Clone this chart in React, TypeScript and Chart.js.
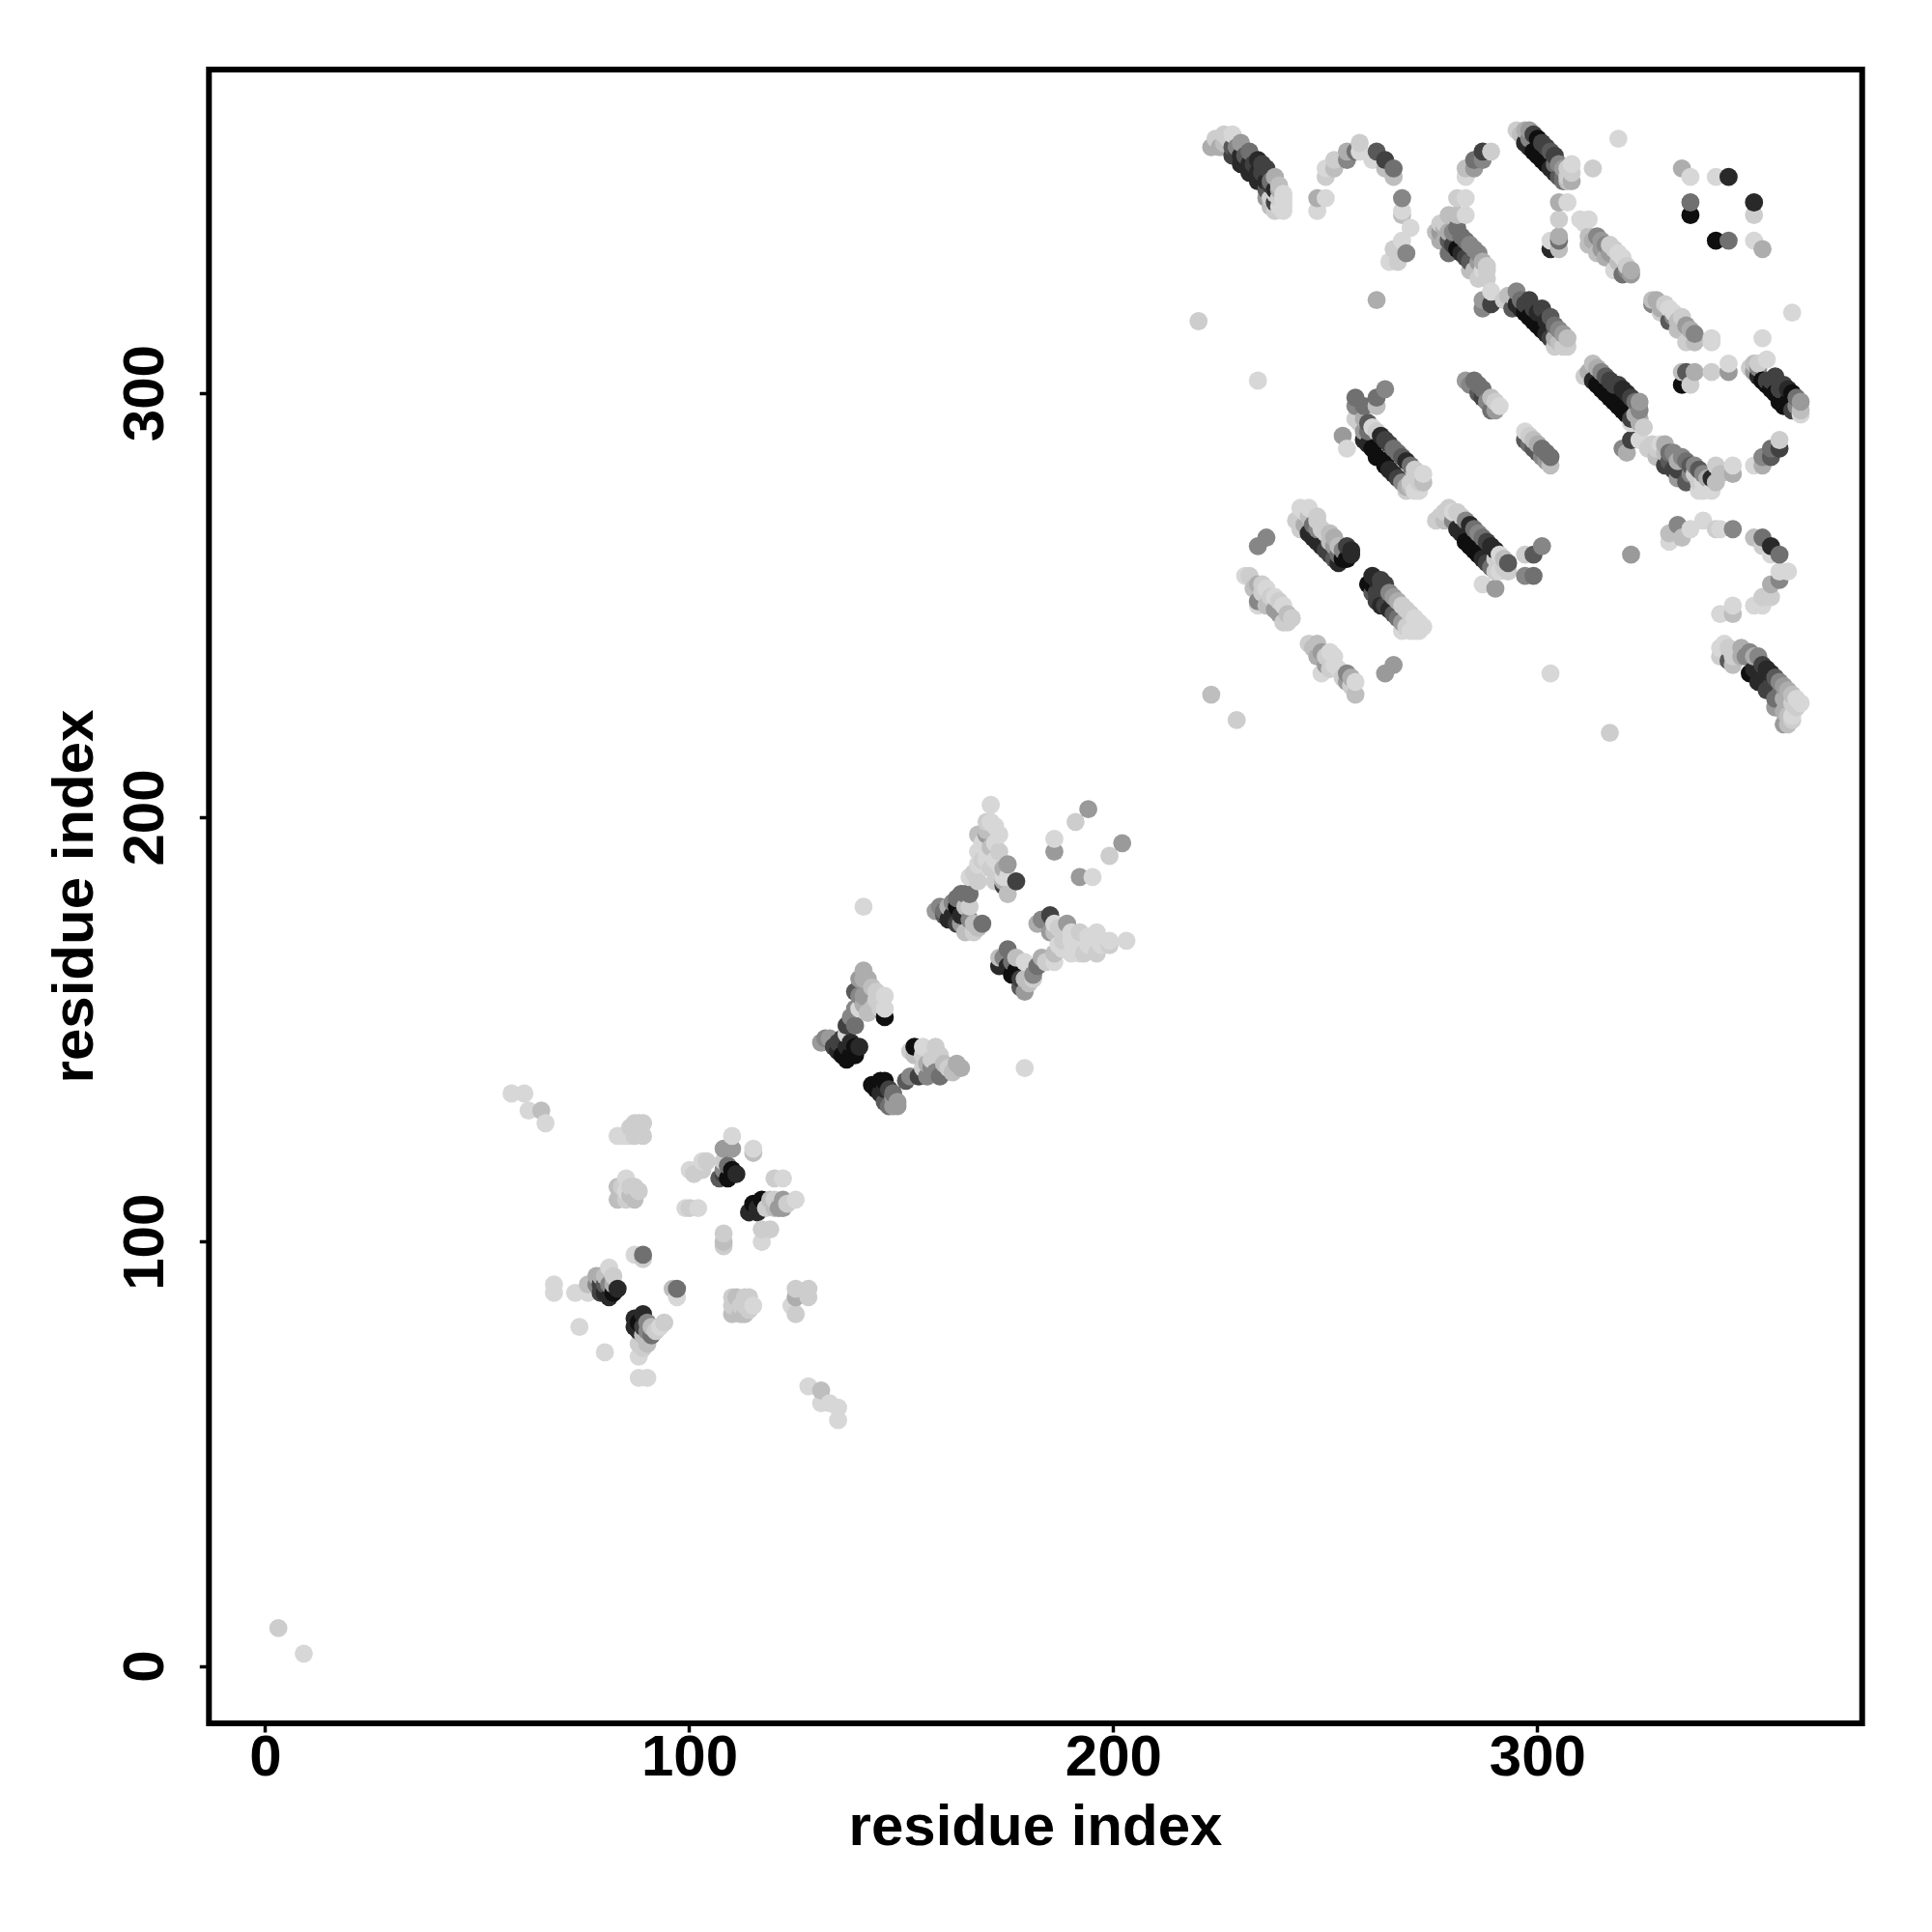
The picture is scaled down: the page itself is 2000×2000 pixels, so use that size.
import React, { useEffect, useRef } from "react";
import { Chart, registerables } from "chart.js";
Chart.register(...registerables);

// Each contact: [residue i, residue j, strength 0..10]
const tickStep = 100;
const axisTitle = "residue index";
const terminal = [[3,9,1],[9,3,0]];
const loopA = [[58,135,0],[61,135,0],[62,131,0],[65,131,2],[66,128,0],[128,66,0],[131,65,2],[131,62,0],[133,62,0],[135,61,0],[135,58,0],[74,80,0],[80,74,0],[88,68,0],[90,68,0]];
const groupA = [[83,125,0],[85,125,0],[87,128,1],[89,128,1],[87,125,1],[89,125,1],[83,113,2],[83,110,2],[85,115,0],[85,110,1],[87,113,1],[87,110,2],[85,112,0],[84,113,1],[84,111,2],[86,113,1],[86,111,2],[88,112,1],[84,125,0],[86,127,1],[88,126,1],[88,128,1],[86,125,0]];
const groupC = [[100,117,0],[103,119,0],[103,117,1],[108,117,5],[110,125,0],[108,122,4],[110,122,4],[115,122,0],[115,121,2],[108,116,8],[109,115,10],[110,117,10],[120,115,1],[122,115,0],[115,109,10],[117,110,10],[116,107,9],[118,108,1],[122,110,4],[122,108,4],[125,110,0],[120,110,1],[99,108,0],[100,108,1],[102,108,0],[108,102,1],[108,100,2],[108,99,1],[117,103,1],[119,103,1],[117,100,0],[109,118,6],[108,119,1],[111,116,9],[107,115,7],[101,116,1],[104,119,1],[114,107,9],[119,109,1],[120,108,2],[116,108,9],[119,110,2],[121,108,4],[123,109,1]];
const groupE = [[87,97,0],[89,97,6],[89,96,1],[81,94,0],[79,92,3],[76,90,2],[76,88,0],[73,88,0],[68,90,0],[68,88,0],[79,90,8],[80,88,9],[82,88,10],[83,89,9],[81,90,5],[96,89,2],[97,89,6],[97,87,0],[80,92,2],[80,90,7],[78,90,5],[82,90,3],[82,92,1],[79,88,8],[81,87,9],[78,92,3]];
const groupF = [[89,83,9],[88,81,10],[88,79,9],[90,81,5],[91,78,6],[92,79,1],[94,81,1],[88,76,1],[90,76,2],[88,73,0],[110,87,1],[110,83,2],[113,87,1],[113,83,2],[112,85,1],[115,85,0],[110,85,1],[112,83,2],[125,89,1],[128,89,1],[128,87,1],[125,87,3],[124,85,0],[125,83,1],[87,82,9],[89,80,8],[87,80,9],[90,79,5],[91,80,2],[93,80,0],[89,78,2],[89,75,1],[111,85,1],[114,87,1],[111,87,2],[114,84,1],[113,85,1]];
const betaLeft = [[141,164,3],[141,162,3],[139,159,7],[144,159,1],[146,158,0],[141,158,4],[139,155,5],[142,154,2],[140,155,0],[146,153,10],[146,155,0],[137,151,8],[139,151,6],[137,149,0],[132,148,5],[133,148,4],[135,147,8],[136,144,10],[139,146,10],[138,144,10],[140,162,4],[142,162,3],[143,160,2],[140,158,5],[144,157,1],[141,156,3],[143,155,2],[145,155,1],[138,153,5],[134,146,8],[135,145,9],[137,146,9],[136,148,8],[138,147,9],[139,144,10],[137,143,10],[140,146,9],[131,147,4]];
const betaRight = [[153,146,10],[155,146,0],[158,146,1],[155,141,1],[159,144,1],[164,141,3],[161,141,1],[159,139,6],[157,141,5],[151,138,7],[154,139,8],[145,138,10],[146,138,10],[144,136,10],[147,136,8],[149,133,4],[147,132,6],[148,132,4],[152,145,1],[153,144,2],[155,144,1],[156,142,3],[157,143,1],[158,140,5],[160,142,2],[162,140,2],[163,142,3],[156,139,5],[152,139,5],[143,137,10],[146,136,9],[145,135,9],[148,135,6],[148,134,4],[146,133,7],[149,132,4]];
const fanTop = [[171,203,0],[171,199,0],[170,199,1],[168,196,2],[173,196,0],[170,196,4],[168,192,0],[168,189,0],[170,192,0],[173,192,1],[173,189,0],[175,189,4],[172,185,1],[174,186,0],[177,185,8],[175,182,2],[174,184,8],[166,186,0],[168,185,1],[170,197,2],[172,198,0],[172,194,0],[169,194,0],[171,193,2],[170,190,0],[172,190,0],[171,188,1],[169,190,1],[174,188,3],[173,187,1],[175,186,0],[167,187,1],[174,185,3]];
const fanLeft = [[164,182,6],[166,182,6],[159,179,5],[161,179,3],[163,179,10],[166,179,1],[161,176,9],[163,175,8],[165,173,2],[167,173,1],[169,175,6],[167,175,2],[160,178,6],[162,177,9],[164,177,9],[162,180,5],[164,175,4],[166,176,5],[168,174,2],[165,179,2],[158,178,4],[160,177,7],[163,181,6],[165,182,6]];
const fanRight = [[175,169,6],[173,167,2],[173,165,9],[176,166,6],[176,163,10],[179,166,0],[178,160,7],[180,161,2],[179,159,4],[182,165,6],[186,168,2],[186,166,0],[182,175,3],[185,177,8],[186,175,0],[189,175,4],[185,173,4],[190,173,0],[192,173,1],[190,168,0],[192,168,0],[196,173,0],[196,168,1],[199,171,0],[203,171,0],[194,172,0],[199,170,1],[174,167,5],[175,165,9],[177,164,10],[177,167,2],[178,162,8],[181,162,1],[179,162,2],[181,163,5],[183,167,3],[184,166,1],[188,171,1],[188,169,0],[190,171,0],[187,170,0],[192,170,0],[194,170,0],[197,170,0],[193,168,1],[186,173,2],[188,173,1],[183,176,5],[187,174,1]];
const fanSingles = [[194,202,4],[191,199,1],[186,195,0],[186,192,4],[199,191,1],[202,194,4],[192,186,4],[195,186,0],[141,179,0],[179,141,0]];
const stripeA = [[223,358,3],[224,360,1],[225,358,3],[226,361,1],[227,360,1],[228,361,0],[226,359,2],[228,358,7],[229,357,8],[230,356,9],[231,355,9],[232,354,9],[233,353,9],[234,352,9],[235,351,9],[236,350,9],[237,349,8],[238,348,9],[236,346,4],[238,345,8],[230,359,4],[232,357,6],[234,355,9],[235,354,8],[236,353,8],[238,351,3],[237,346,1],[238,343,1],[240,343,0],[240,346,0],[240,345,0]];
const stripeAFill = [[229,358,5],[231,356,7],[233,354,8],[235,352,8],[237,350,6],[239,348,3],[239,346,1],[239,344,0],[237,344,2],[238,347,1],[236,348,7],[234,350,9],[232,352,9],[230,354,9],[228,356,8],[240,344,0],[240,347,0],[239,349,2]];
const archB = [[248,343,0],[248,346,3],[250,346,0],[250,351,1],[250,353,0],[252,353,2],[252,355,1],[255,355,5],[255,357,3],[257,357,6],[258,357,0],[258,359,1],[262,357,7],[261,355,0],[264,355,8],[264,353,2],[266,351,2],[266,353,6],[268,346,5],[268,343,0],[268,342,2],[270,339,0],[268,336,0],[266,334,1],[265,331,0],[267,331,1],[269,333,5]];
const singlesTop = [[262,322,3],[220,317,1],[234,303,0],[313,353,1],[319,360,0],[223,229,2],[229,223,1],[303,234,0],[317,220,1],[322,262,4]];
const branchC = [[289,357,1],[287,357,8],[285,355,6],[287,355,5],[283,353,2],[285,353,4],[283,351,0],[281,346,1],[283,346,0],[279,342,2],[281,342,2],[283,342,0]];
const stripeC = [[277,340,1],[281,339,6],[283,336,6],[285,334,5],[286,331,4],[288,329,1],[289,324,0],[287,320,5],[289,321,8],[287,322,4],[277,338,4],[279,336,7],[281,334,10],[283,332,8],[284,329,2],[286,327,1],[279,333,6],[278,336,3]];
const stripeCFill = [[278,339,3],[280,338,5],[282,337,6],[284,335,5],[286,333,5],[287,331,3],[288,330,1],[280,335,8],[282,333,9],[284,331,7],[285,329,2],[287,328,1],[287,329,0],[279,338,3],[278,340,1],[276,338,2],[277,336,3],[288,327,1]];
const stripeD = [[295,362,1],[297,362,3],[298,362,4],[300,360,10],[302,358,8],[304,356,8],[305,354,5],[308,354,0],[308,352,1],[306,351,6],[297,359,9],[299,357,10],[301,355,10],[303,353,9],[305,351,7]];
const stripeDFill = [[296,361,2],[298,360,5],[299,361,8],[301,359,8],[303,357,7],[304,354,6],[306,353,4],[307,353,1],[307,351,1],[298,358,9],[300,356,10],[302,354,10],[304,352,9],[306,350,6],[307,350,2],[308,350,3]];
const shortD = [[305,345,3],[307,345,0],[305,341,1],[305,337,3],[305,336,6],[305,334,2],[303,336,0],[303,334,9]];
const stripeE = [[312,341,0],[310,341,0],[312,337,2],[314,337,5],[312,335,2],[316,335,5],[314,333,2],[318,334,1],[316,332,3],[320,332,0],[318,329,0],[322,329,3],[320,328,6],[322,328,4],[311,340,0],[313,336,3],[315,336,4],[315,334,4],[317,333,4],[317,335,1],[319,331,2],[319,333,0],[321,330,1],[321,329,5]];
const ringGroup = [[334,353,3],[336,351,0],[342,351,0],[345,351,9],[336,345,6],[336,342,10],[351,345,9],[351,342,1],[342,336,10],[345,336,6],[351,336,0],[353,334,3]];
const stripeF = [[293,323,2],[294,323,2],[295,324,5],[298,322,8],[301,320,8],[303,318,7],[305,315,5],[307,313,2],[295,321,9],[297,319,10],[299,317,10],[301,315,10],[303,313,8],[304,311,1],[306,311,1]];
const stripeFFill = [[292,322,1],[294,320,7],[296,322,6],[297,321,8],[299,320,8],[300,319,9],[302,317,9],[304,316,6],[306,314,4],[296,320,9],[298,318,10],[300,316,10],[302,314,9],[304,313,3],[305,312,2],[307,311,1]];
const singlesRight = [[360,319,0],[353,313,0]];
const stripeG = [[328,322,3],[329,319,1],[331,320,0],[334,318,1],[331,317,7],[335,316,4],[333,315,2],[337,314,5],[335,312,1],[337,312,2],[341,312,0],[341,313,0],[330,321,1],[332,319,0],[332,318,5],[333,317,2],[336,315,3],[336,313,1],[334,316,2],[327,322,2],[327,321,5],[329,320,3]];
const rowG = [[334,305,2],[334,302,10],[336,302,1],[335,305,7],[337,305,3],[341,305,1],[345,305,4],[345,307,0]];
const stripeH = [[311,304,1],[313,307,2],[315,305,5],[317,303,8],[320,301,9],[322,299,8],[324,296,5],[324,293,3],[322,293,0],[313,303,9],[315,301,10],[317,299,10],[319,297,10],[321,295,10]];
const stripeHFill = [[312,305,3],[314,306,3],[316,304,7],[318,302,8],[319,302,8],[321,300,9],[323,298,6],[324,298,4],[324,294,3],[314,302,10],[316,300,10],[318,298,10],[320,296,10],[322,294,8],[323,295,3],[325,292,1]];
const stripeJ = [[351,307,2],[354,308,0],[351,305,4],[353,303,10],[356,304,8],[358,302,8],[360,300,10],[362,298,4],[362,296,2],[362,295,0],[355,301,10],[357,299,10],[358,297,10]];
const stripeJFill = [[350,306,1],[352,307,1],[352,304,9],[354,303,8],[355,303,8],[357,301,8],[359,301,9],[361,299,6],[352,306,5],[354,302,10],[356,300,10],[357,298,10],[359,298,10],[361,297,5],[360,296,8]];
const clusterK = [[257,299,6],[257,297,5],[259,297,6],[262,297,2],[262,299,6],[264,301,5],[254,290,4],[255,287,0]];
const stripeK = [[258,293,1],[260,293,7],[261,292,0],[263,290,9],[265,288,8],[267,286,6],[269,284,9],[271,282,1],[273,279,2],[271,277,0],[269,277,1],[259,289,9],[261,287,10],[264,284,10],[265,282,9],[267,280,8],[259,291,4],[269,278,3]];
const stripeKFill = [[257,294,1],[259,294,3],[260,291,6],[262,291,1],[264,289,8],[266,287,6],[268,285,7],[270,283,6],[272,281,1],[273,281,0],[272,279,1],[270,279,1],[260,288,9],[262,285,10],[264,283,10],[266,281,9],[268,279,5],[270,278,2],[272,277,0]];
const stripeL = [[283,303,4],[285,303,6],[287,301,6],[287,299,8],[289,299,2],[289,296,6],[291,297,0],[284,302,5],[286,300,7],[288,298,5],[290,298,1],[286,302,6],[290,296,4]];
const stripeM = [[297,291,0],[297,289,7],[299,289,2],[299,287,7],[301,287,6],[303,285,6],[301,285,5],[303,283,2],[298,290,1],[298,288,6],[300,288,3],[300,286,7],[302,286,6],[302,284,4]];
const stripeN = [[244,268,1],[244,273,0],[246,273,0],[244,271,1],[248,271,1],[249,268,1],[252,266,3],[253,264,2],[255,264,8],[256,262,9],[254,261,10],[246,267,9],[248,265,9],[250,263,8],[252,261,7],[248,268,5]];
const stripeNFill = [[243,270,1],[245,272,0],[245,269,3],[246,271,2],[247,269,6],[248,270,1],[250,267,1],[251,267,2],[251,265,2],[253,262,6],[247,266,9],[249,264,9],[251,262,8],[253,260,9],[255,261,10],[256,263,9],[254,263,5],[252,264,4]];
const stripeO = [[261,255,10],[262,256,9],[264,255,8],[266,252,4],[268,250,1],[270,248,1],[273,245,0],[271,244,0],[268,244,0],[262,251,8],[265,249,9],[267,247,6],[261,253,7]];
const stripeOFill = [[260,255,10],[261,257,9],[263,254,8],[263,256,8],[265,253,5],[267,251,3],[269,249,1],[271,247,0],[272,246,0],[272,244,0],[270,244,0],[263,250,9],[264,250,8],[266,248,7],[268,246,4],[269,245,1],[262,253,8]];
const stripeP = [[277,271,1],[279,273,1],[281,272,1],[284,269,9],[286,267,5],[288,265,8],[290,263,9],[291,262,0],[293,260,7],[293,258,1],[281,268,9],[283,265,10],[285,263,10],[287,261,9],[289,259,6]];
const stripePFill = [[276,270,1],[278,272,1],[278,270,2],[280,272,0],[280,270,5],[282,271,1],[283,270,5],[285,268,6],[287,266,6],[289,264,9],[290,261,1],[292,261,2],[292,259,1],[282,267,9],[284,264,10],[286,262,10],[288,260,8],[290,258,1],[291,258,0]];
const clusterP = [[297,262,1],[299,262,7],[301,264,5],[297,257,5],[299,257,6],[287,255,0],[290,254,4]];
const stripeQ = [[231,257,0],[232,257,1],[234,255,3],[234,250,0],[235,253,1],[237,252,1],[239,251,1],[241,248,2],[240,246,1],[234,251,5],[236,250,2],[234,264,5],[236,266,5],[233,254,2],[235,255,1],[236,254,0],[237,250,2],[238,249,4],[238,252,0],[240,250,0],[241,246,1],[242,247,1],[239,248,4]];
const stripeR = [[246,241,1],[248,241,2],[249,239,4],[251,239,0],[249,234,0],[252,236,0],[255,234,5],[257,232,0],[257,229,2],[255,232,4],[248,238,3],[264,234,4],[266,236,4],[247,240,2],[250,238,1],[250,236,4],[252,238,0],[253,235,0],[251,235,1],[254,233,1],[256,231,1],[256,233,3]];
const stripeS = [[326,287,1],[327,288,1],[329,288,0],[331,286,6],[334,285,5],[336,283,7],[339,281,5],[337,281,1],[340,278,0],[338,277,0],[342,283,1],[343,281,2],[342,279,2],[346,283,0],[346,281,3],[330,283,8],[332,282,8],[335,279,7],[333,280,4],[341,280,9],[328,287,1],[330,286,2],[330,288,3],[332,286,5],[333,284,3],[335,284,6],[336,281,5],[337,283,5],[338,282,7],[338,279,1],[339,279,0],[340,280,3],[341,277,0],[339,277,0],[331,284,7],[328,285,2],[333,282,8]];
const turnS = [[320,287,5],[322,289,8],[324,289,0],[321,286,3],[351,283,0],[353,283,3],[353,285,5],[355,285,7],[355,287,6],[357,287,8],[357,289,1]];
const arcT = [[331,265,0],[331,267,2],[333,269,5],[334,266,2],[336,268,0],[339,270,0],[342,268,1],[343,268,0],[346,268,5],[351,266,2],[353,266,6],[353,264,1],[355,264,9],[355,262,0],[357,262,6],[357,258,0],[359,258,0],[357,256,5],[355,255,3],[355,252,1],[353,252,1],[353,250,0],[351,250,0],[346,250,0],[346,248,2],[343,248,0]];
const stripeT = [[343,240,0],[343,238,1],[345,237,7],[346,236,2],[347,239,1],[349,238,5],[351,238,3],[353,236,8],[355,234,9],[357,232,5],[359,230,3],[361,228,0],[361,226,1],[359,224,2],[358,222,4],[360,224,0],[350,234,10],[352,232,9],[354,230,8],[356,228,6]];
const stripeTFill = [[344,241,0],[345,240,1],[346,238,1],[348,240,3],[348,238,3],[350,239,5],[352,238,5],[354,235,9],[356,233,7],[358,231,4],[360,229,2],[360,227,1],[362,227,0],[358,225,3],[359,222,2],[351,235,9],[353,233,9],[355,231,8],[357,229,6],[358,228,3],[356,226,4],[360,223,1]];

const contacts = [terminal, loopA, groupA, groupC, groupE, groupF, betaLeft, betaRight, fanTop, fanLeft, fanRight, fanSingles, stripeA, stripeAFill, archB, singlesTop, branchC, stripeC, stripeCFill, stripeD, stripeDFill, shortD, stripeE, ringGroup, stripeF, stripeFFill, singlesRight, stripeG, rowG, stripeH, stripeHFill, stripeJ, stripeJFill, clusterK, stripeK, stripeKFill, stripeL, stripeM, stripeN, stripeNFill, stripeO, stripeOFill, stripeP, stripePFill, clusterP, stripeQ, stripeR, stripeS, turnS, arcT, stripeT, stripeTFill]
  .flat()
  .sort((a, b) => a[0] - b[0] || a[1] - b[1]);

const shade = (s: number) => {
  const g = Math.round(215 - 200 * Math.pow(s / 10, 1.3));
  return `rgb(${g},${g},${g})`;
};

const frame = {
  id: "frame",
  afterDatasetsDraw(chart: Chart) {
    const { ctx, chartArea: a } = chart;
    ctx.save();
    ctx.strokeStyle = "#000";
    ctx.lineWidth = 6;
    ctx.strokeRect(a.left, a.top, a.right - a.left, a.bottom - a.top);
    ctx.restore();
  },
};

export default function App() {
  const ref = useRef<HTMLCanvasElement>(null);
  useEffect(() => {
    document.body.style.margin = "0";
    document.body.style.background = "#fff";
    const font = { family: "'Liberation Sans', Arial, sans-serif", size: 60, weight: "bold" as const };
    const chart = new Chart(ref.current!, {
      type: "scatter",
      plugins: [frame],
      data: {
        datasets: [{
          data: contacts.map(([x, y]) => ({ x, y })),
          pointRadius: 9.4,
          pointBorderWidth: 0,
          pointBackgroundColor: contacts.map((c) => shade(c[2])),
        }],
      },
      options: {
        animation: false,
        responsive: false,
        events: [],
        layout: { padding: { top: 72, right: 72.3, left: 0, bottom: 0 } },
        plugins: { legend: { display: false }, tooltip: { enabled: false } },
        scales: {
          x: {
            type: "linear", min: -13.37, max: 376.5,
            afterFit: (s: any) => { s.height = 216; },
            border: { display: false },
            grid: { drawOnChartArea: false, drawTicks: true, tickLength: 9.5, tickColor: "#000", tickWidth: 3.5 },
            ticks: { stepSize: tickStep, includeBounds: false, color: "#000", font, padding: -8, maxRotation: 0, minRotation: 0 },
            title: { display: true, text: axisTitle, color: "#000", font, padding: { top: 0, bottom: 70.5 } },
          },
          y: {
            type: "linear", min: -13.43, max: 376.3,
            afterFit: (s: any) => { s.width = 216.3; },
            border: { display: false },
            grid: { drawOnChartArea: false, drawTicks: true, tickLength: 9.5, tickColor: "#000", tickWidth: 3.5 },
            ticks: { stepSize: tickStep, includeBounds: false, color: "#000", font, padding: 4.5, minRotation: 90, maxRotation: 90, crossAlign: "center" },
            title: { display: true, text: axisTitle, color: "#000", font, padding: { top: 43, bottom: 0 } },
          },
        },
      },
    });
    return () => chart.destroy();
  }, []);
  return <canvas ref={ref} width={2000} height={2000} style={{ display: "block" }} />;
}
